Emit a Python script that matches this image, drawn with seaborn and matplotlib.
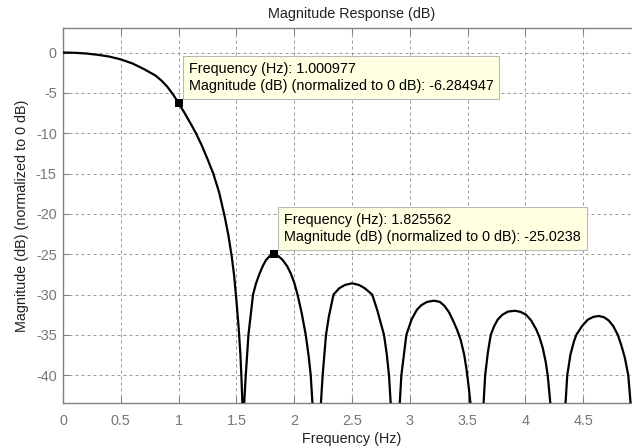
import matplotlib
matplotlib.use("Agg")
import matplotlib.pyplot as plt
import seaborn as sns
import pandas as pd

# ---- data ----
freq_hz = [0.0, 0.1, 0.2, 0.3, 0.4, 0.5, 0.6, 0.7, 0.8, 0.85, 0.9, 0.95, 1.000977,
           1.05, 1.1, 1.15, 1.2, 1.25, 1.3, 1.35, 1.4, 1.43, 1.46, 1.48, 1.5, 1.52,
           1.535, 1.545, 1.552, 1.557,
           1.567, 1.581, 1.604, 1.644, 1.67, 1.70, 1.73, 1.757, 1.79, 1.825562, 1.86,
           1.90, 1.94, 1.971, 2.0, 2.029, 2.065, 2.10, 2.125, 2.143, 2.158, 2.195,
           2.231, 2.246, 2.275, 2.30, 2.34, 2.39, 2.44, 2.5, 2.56, 2.61, 2.675, 2.72,
           2.777, 2.80, 2.82, 2.835, 2.874,
           2.913, 2.927, 2.97, 3.015, 3.06, 3.10, 3.15, 3.21, 3.26, 3.30, 3.34, 3.38,
           3.41, 3.44, 3.47, 3.49, 3.51, 3.525, 3.584,
           3.638, 3.652, 3.675, 3.70, 3.73, 3.76, 3.80, 3.85, 3.91, 3.96, 4.006, 4.05,
           4.093, 4.12, 4.15, 4.175, 4.193, 4.216, 4.28,
           4.347, 4.362, 4.39, 4.42, 4.44, 4.49, 4.54, 4.59, 4.635, 4.68, 4.72, 4.76,
           4.80, 4.83, 4.86, 4.89, 4.91, 4.95]
mag_db = [0.0, -0.03, -0.12, -0.28, -0.5, -0.85, -1.35, -2.05, -2.85, -3.45, -4.2, -5.15, -6.284947,
          -7.45, -8.7, -10.0, -11.5, -13.2, -15.0, -17.3, -20.4, -22.6, -25.3, -27.6, -30.7, -34.2,
          -37.5, -40.8, -43.5, -70.0,
          -43.5, -40.0, -35.0, -30.0, -28.6, -27.4, -26.4, -25.7, -25.2, -25.0238, -25.2,
          -25.7, -26.5, -27.4, -28.5, -30.0, -32.3, -35.0, -37.6, -40.0, -43.5, -70.0,
          -43.5, -40.0, -35.0, -32.7, -30.0, -29.2, -28.8, -28.6, -28.8, -29.2, -30.0, -32.0,
          -35.0, -37.3, -40.0, -43.5, -70.0,
          -43.5, -40.0, -35.0, -33.1, -31.9, -31.3, -30.9, -30.75, -30.9, -31.4, -32.2, -33.4,
          -34.4, -35.6, -37.4, -39.2, -41.5, -43.5, -70.0,
          -43.5, -40.0, -37.2, -35.0, -33.9, -33.1, -32.5, -32.1, -32.0, -32.15, -32.5, -33.2,
          -34.3, -35.2, -36.6, -38.3, -40.0, -43.5, -70.0,
          -43.5, -40.0, -37.4, -35.8, -35.0, -33.9, -33.1, -32.75, -32.65, -32.8, -33.2, -33.9,
          -35.0, -36.3, -37.8, -40.0, -43.5, -70.0]

tip_freq = [1.000977, 1.825562]
tip_mag = [-6.284947, -25.0238]

x_ticks = [0, 0.5, 1, 1.5, 2, 2.5, 3, 3.5, 4, 4.5]
x_tick_labels = ["0", "0.5", "1", "1.5", "2", "2.5", "3", "3.5", "4", "4.5"]
y_ticks = [0, -5, -10, -15, -20, -25, -30, -35, -40]
y_tick_labels = ["0", "-5", "-10", "-15", "-20", "-25", "-30", "-35", "-40"]

title = "Magnitude Response (dB)"
x_label = "Frequency (Hz)"
y_label = "Magnitude (dB) (normalized to 0 dB)"

# ---- styling ----
sns.set_theme(style="white")
plt.rcParams["font.family"] = ["Liberation Sans", "DejaVu Sans"]
FS = 10.4
GRAY = "#808080"

fig = plt.figure(figsize=(6.32, 4.48), dpi=100)
fig.patch.set_facecolor("white")
# axes extends past the right edge of the picture (cropped in the reference)
ax = fig.add_axes([63 / 632, 45 / 448, 578 / 632, 375 / 448])
ax.set_facecolor("white")

df = pd.DataFrame({"f": freq_hz, "m": mag_db})
sns.lineplot(data=df, x="f", y="m", ax=ax, color="black", linewidth=1.6,
             estimator=None, sort=False, zorder=3)
tips = pd.DataFrame({"f": tip_freq, "m": tip_mag})
sns.scatterplot(data=tips, x="f", y="m", ax=ax, marker="s", color="black",
                s=34, linewidth=0, zorder=4)

ax.set_xlim(0, 5)
ax.set_ylim(-43.43, 3.04)
ax.set_xticks(x_ticks)
ax.set_xticklabels(x_tick_labels)
ax.set_yticks(y_ticks)
ax.set_yticklabels(y_tick_labels)

ax.grid(True, color="#9a9a9a", linewidth=0.72, linestyle=(0, (3, 3)))
ax.set_axisbelow(True)
for side in ["top", "bottom", "left", "right"]:
    ax.spines[side].set_color(GRAY)
    ax.spines[side].set_linewidth(1.0)
ax.tick_params(axis="both", direction="in", length=4, width=0.8, color=GRAY,
               labelcolor="#777777", labelsize=FS, top=True, left=True,
               bottom=True, right=False)
ax.tick_params(axis="x", pad=8)
ax.tick_params(axis="y", pad=4.5)

ax.set_title(title, fontsize=FS, color="#222222", pad=7)
ax.set_xlabel(x_label, fontsize=FS, color="#222222", labelpad=3)
ax.set_ylabel(y_label, fontsize=FS, color="#222222", labelpad=5)

for f, m in zip(tip_freq, tip_mag):
    txt = f"Frequency (Hz): {f}\nMagnitude (dB) (normalized to 0 dB): {m}"
    ax.annotate(txt, xy=(f, m), xytext=(10, 10), textcoords="offset pixels",
                ha="left", va="bottom", fontsize=FS, color="black",
                linespacing=1.3, zorder=6,
                bbox=dict(boxstyle="square,pad=0.4", facecolor="#ffffe1",
                          edgecolor="#b8b8b8", linewidth=0.8))

fig.savefig("out.png", dpi=100)
